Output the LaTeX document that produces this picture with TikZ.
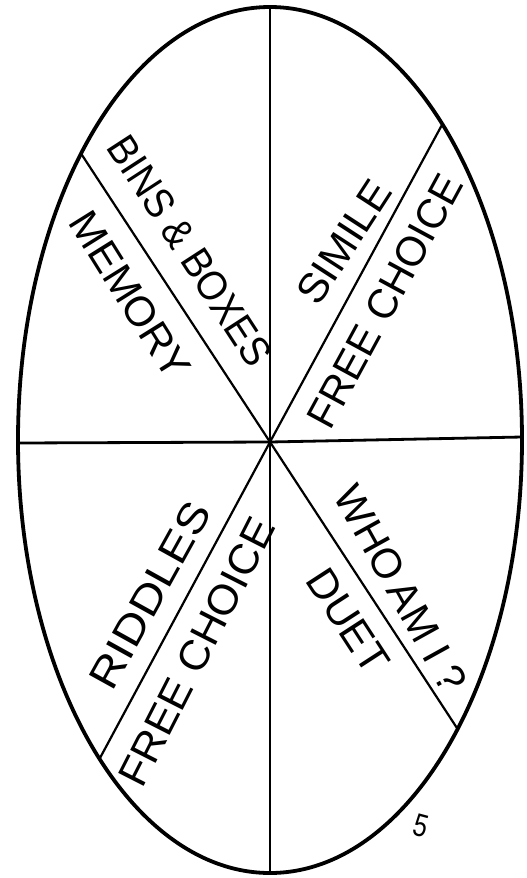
\documentclass[tikz,border=0pt]{standalone}
\usepackage{fontspec}
\setmainfont{Liberation Sans}
\usepackage{graphicx}
\newcommand{\sectorlabel}[2]{\resizebox{#1pt}{29pt}{#2}}
\tikzset{
  rim/.style={line width=3.8pt},
  spoke/.style={line width=2.2pt},
  axisline/.style={line width=2.8pt},
  lbl/.style={inner sep=0pt, anchor=center},
}
\begin{document}
\begin{tikzpicture}[x=1pt,y=-1pt]
\useasboundingbox (0,0) rectangle (527,878);
% centre and rim points
\coordinate (O) at (270,442);
\coordinate (T) at (270,7);
\coordinate (B) at (270,873);
\coordinate (L) at (18,443);
\coordinate (R) at (522,437);
\coordinate (UL) at (81,153.5);
\coordinate (UR) at (442.4,124.1);
\coordinate (LL) at (99.5,758.9);
\coordinate (LR) at (457.6,729);
% rim
\draw[rim] (270,440) ellipse [x radius=252, y radius=433];
% dividing lines
\draw[spoke] (T) -- (O) -- (B);
\draw[axisline] (L) -- (O) -- (R);
\draw[spoke] (UL) -- (O) -- (LR);
\draw[spoke] (UR) -- (O) -- (LL);
% labels
\node[lbl, rotate=-57] (bins) at (190,251) {\sectorlabel{265}{BINS \& BOXES}};
\node[lbl, rotate=-58] (memory) at (130,295) {\sectorlabel{189}{MEMORY}};
\node[lbl, rotate=57] (simile) at (344,242) {\sectorlabel{138}{SIMILE}};
\node[lbl, rotate=61.5] (freeA) at (385,301) {\sectorlabel{281}{FREE CHOICE}};
\node[lbl, rotate=61] (riddles) at (150,595) {\sectorlabel{206}{RIDDLES}};
\node[lbl, rotate=63] (freeB) at (197,652) {\sectorlabel{295}{FREE CHOICE}};
\node[lbl, rotate=-61] (whoami) at (401,589) {\sectorlabel{229}{WHO\,AM I ?}};
\node[lbl, rotate=-57] (duet) at (348,621) {\sectorlabel{115}{DUET}};
\node[lbl, rotate=-15] (mark) at (421,826) {\resizebox{14pt}{22pt}{5}};
\end{tikzpicture}
\end{document}
